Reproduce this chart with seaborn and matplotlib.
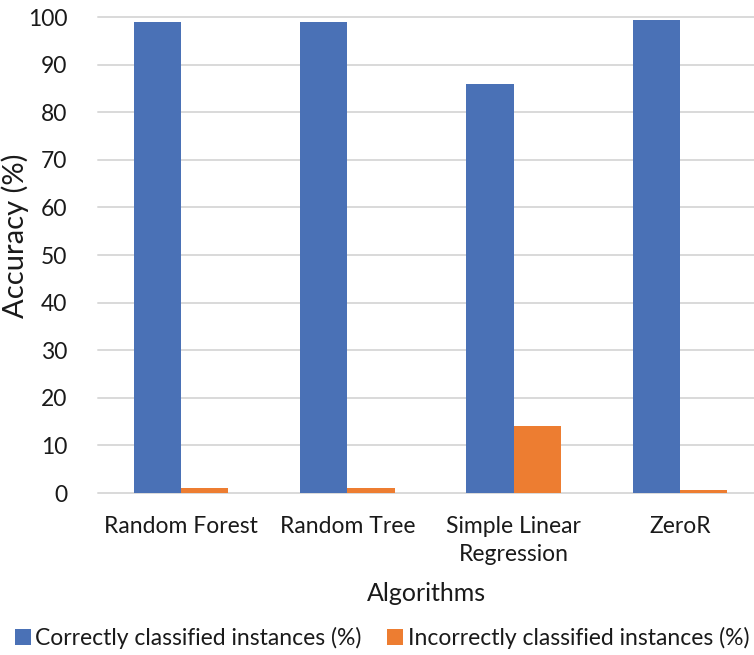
import matplotlib
matplotlib.use("Agg")
import matplotlib.pyplot as plt
import seaborn as sns
import pandas as pd
from matplotlib.patches import Patch

algorithms = ["Random Forest", "Random Tree", "Simple Linear\nRegression", "ZeroR"]
correct = [99.0, 98.9, 86.0, 99.3]
incorrect = [1.0, 1.1, 14.0, 0.7]
series = ["Correctly classified instances (%)", "Incorrectly classified instances (%)"]
yticks = [0, 10, 20, 30, 40, 50, 60, 70, 80, 90, 100]

df = pd.DataFrame({
    "Algorithm": algorithms * 2,
    "Value": correct + incorrect,
    "Series": [series[0]] * len(algorithms) + [series[1]] * len(algorithms),
})

sns.set_theme(style="white")
plt.rcParams["font.family"] = ["Lato", "DejaVu Sans"]

W, H = 754, 655
fig = plt.figure(figsize=(W / 100, H / 100), dpi=100)
left, right, top, bottom = 98, 763, 17, 493
aw, ah = right - left, bottom - top
ax = fig.add_axes([left / W, 1 - bottom / H, aw / W, ah / H])

palette = ["#4A71B6", "#ED7D31"]
sns.barplot(data=df, x="Algorithm", y="Value", hue="Series", palette=palette,
            width=0.567, gap=0, ax=ax, legend=False, saturation=1, edgecolor="none")

text_color = "#1a1a1a"
ax.set_ylim(0, 100)
ax.set_xlim(-0.5, 3.5)
ax.set_yticks(yticks)
ax.yaxis.grid(True, color="#D9D9D9", linewidth=1.4)
ax.set_axisbelow(True)
for ln in ax.get_ygridlines():
    ln.set_clip_on(False)
for s in ax.spines.values():
    s.set_visible(False)
ax.tick_params(axis="y", length=0, pad=22, labelsize=16.5, colors=text_color)
ax.tick_params(axis="x", length=0, pad=16.5, labelsize=16.5, colors=text_color)
for lbl in ax.get_xticklabels():
    lbl.set_linespacing(1.4)

ax.set_xlabel("Algorithms", fontsize=18, color=text_color)
ax.xaxis.set_label_coords(0.5 - 9 / aw / 2, -(582 - bottom) / ah)
ax.set_ylabel("Accuracy (%)", fontsize=21, color=text_color)
ax.yaxis.set_label_coords(-(left - 29) / aw, (bottom - 236) / ah)

handles = [Patch(facecolor=c, edgecolor="none") for c in palette]
fig.legend(handles, series, loc="center", bbox_to_anchor=(382 / W, 1 - 638 / H), ncol=2,
           frameon=False, fontsize=16.5, handlelength=0.7, handleheight=0.7,
           handletextpad=0.2, columnspacing=1.1, labelcolor=text_color)

fig.savefig("out.png", dpi=100)
